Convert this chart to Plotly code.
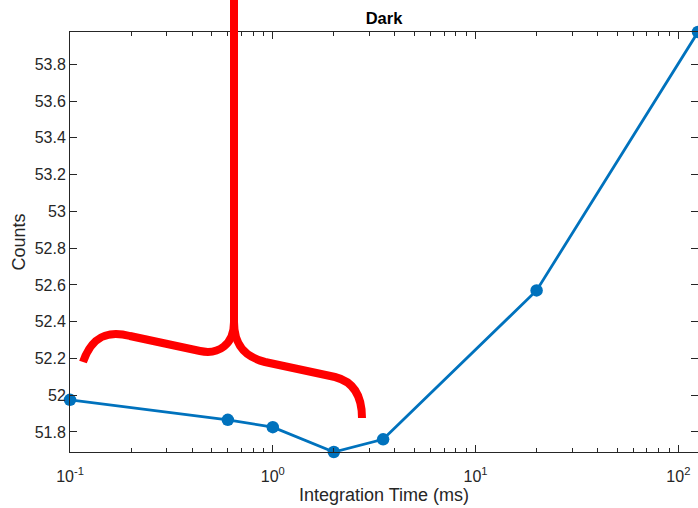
import math
import plotly.graph_objects as go

# data
integration_time = [0.1, 0.6, 1, 2, 3.5, 20, 125]
counts = [51.975, 51.866, 51.826, 51.691, 51.76, 52.57, 53.976]

x_tickvals = [0.1, 1, 10, 100]
x_ticktext = ["10<sup>-1</sup>", "10<sup>0</sup>", "10<sup>1</sup>", "10<sup>2</sup>"]
y_tickvals = [51.8, 52.0, 52.2, 52.4, 52.6, 52.8, 53.0, 53.2, 53.4, 53.6, 53.8]
y_ticktext = ["51.8", "52", "52.2", "52.4", "52.6", "52.8", "53", "53.2", "53.4", "53.6", "53.8"]
minor_vals = [m * 10 ** e for e in (-1, 0, 1, 2) for m in range(2, 10) if m * 10 ** e < 125]

W, H = 698, 508
ML, MR, MT, MB = 70, 0, 32, 56
PW, PH = W - ML - MR, H - MT - MB

def P(px, py):
    return f"{(px - ML) / PW:.5f},{(H - MB - py) / PH:.5f}"

brace_left = (f"M {P(83,362)} C {P(92,336)} {P(108,330)} {P(130,336)} "
              f"L {P(200,351)} C {P(218,355)} {P(234,345)} {P(234,322)} L {P(234,-5)}")
brace_right = (f"M {P(234,322)} C {P(234,345)} {P(245,357)} {P(265,362)} "
               f"L {P(335,377)} C {P(355,382)} {P(362,398)} {P(362,418)}")

axis_col = "#262626"
font_fam = "Helvetica, Arial, 'Liberation Sans', sans-serif"

fig = go.Figure()
fig.add_trace(go.Scatter(
    x=integration_time, y=counts, mode="lines+markers",
    line=dict(color="#0072BD", width=2.8),
    marker=dict(color="#0072BD", size=12.5),
    cliponaxis=False, showlegend=False,
))

for path in (brace_left, brace_right):
    fig.add_shape(type="path", path=path, xref="paper", yref="paper",
                  line=dict(color="#FF0000", width=8), layer="above")

fig.update_layout(
    width=W, height=H,
    margin=dict(l=ML, r=MR, t=MT, b=MB),
    paper_bgcolor="white", plot_bgcolor="white",
    font=dict(family=font_fam, size=16, color=axis_col),
    title=dict(text="<b>Dark</b>", x=(ML + PW / 2) / W, xanchor="center",
               y=1 - 18 / H, yanchor="middle", font=dict(size=16.5, color="black")),
)
fig.update_xaxes(
    type="log", range=[-1, math.log10(125)],
    tickvals=x_tickvals, ticktext=x_ticktext,
    ticks="inside", ticklen=7, tickcolor=axis_col, tickwidth=1,
    minor=dict(tickvals=minor_vals, ticks="inside", ticklen=4, tickcolor=axis_col, showgrid=False),
    showline=True, linecolor=axis_col, linewidth=1, mirror="ticks",
    showgrid=False, zeroline=False,
    ticklabelstandoff=10,
    title=dict(text="Integration Time (ms)", font=dict(size=18), standoff=4),
    tickfont=dict(size=16),
)
fig.update_yaxes(
    range=[51.691, 53.976],
    tickvals=y_tickvals, ticktext=y_ticktext,
    ticks="inside", ticklen=7, tickcolor=axis_col, tickwidth=1,
    showline=True, linecolor=axis_col, linewidth=1, mirror="ticks",
    showgrid=False, zeroline=False,
    title=dict(text="Counts", font=dict(size=18), standoff=4),
    tickfont=dict(size=16),
)

fig.write_html("out.html")
